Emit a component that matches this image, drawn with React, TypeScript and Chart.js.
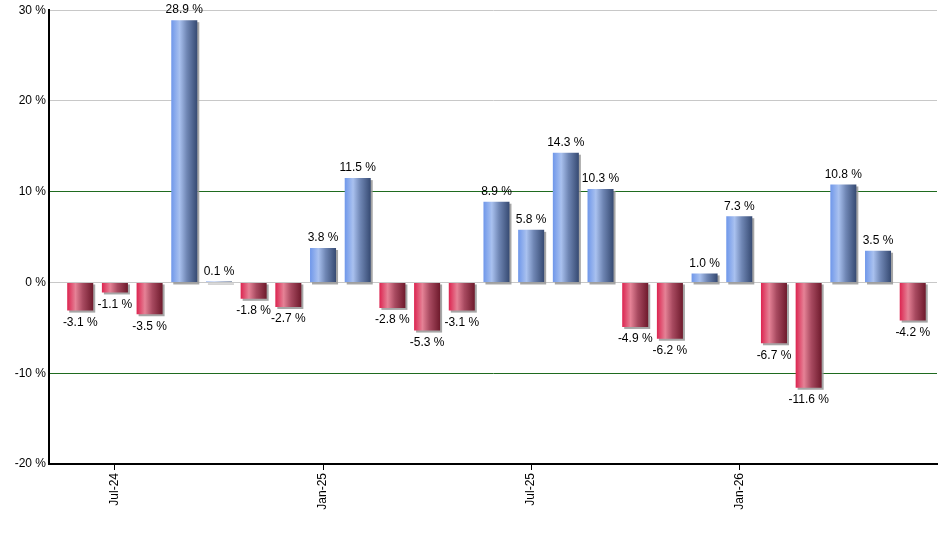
import React, { useEffect, useRef } from "react";
import { Chart, registerables } from "chart.js";

Chart.register(...registerables);

const months = [
  "Jun-24", "Jul-24", "Aug-24", "Sep-24", "Oct-24", "Nov-24", "Dec-24",
  "Jan-25", "Feb-25", "Mar-25", "Apr-25", "May-25", "Jun-25",
  "Jul-25", "Aug-25", "Sep-25", "Oct-25", "Nov-25", "Dec-25",
  "Jan-26", "Feb-26", "Mar-26", "Apr-26", "May-26", "Jun-26",
];
const returns = [
  -3.1, -1.1, -3.5, 28.9, 0.1, -1.8, -2.7,
  3.8, 11.5, -2.8, -5.3, -3.1, 8.9,
  5.8, 14.3, 10.3, -4.9, -6.2, 1.0,
  7.3, -6.7, -11.6, 10.8, 3.5, -4.2,
];
const tickIndices = [1, 7, 13, 19];
const yTicks = [-20, -10, 0, 10, 20, 30];

const FONT = "'Liberation Sans', Arial, sans-serif";
const BAR_PCT = 0.75;

function barGeom(chart: any, i: number) {
  const xs = chart.scales.x;
  const cx = xs.getPixelForValue(i);
  const w = Math.abs(xs.getPixelForValue(1) - xs.getPixelForValue(0)) * BAR_PCT;
  return { cx, w };
}

const shadowPlugin = {
  id: "barShadow",
  beforeDatasetsDraw(chart: any) {
    const ctx = chart.ctx;
    const meta = chart.getDatasetMeta(0);
    const ys = chart.scales.y;
    const zero = ys.getPixelForValue(0);
    ctx.save();
    ctx.fillStyle = "rgba(150,150,150,0.85)";
    meta.data.forEach((el: any) => {
      const left = el.x - el.width / 2;
      const top = Math.min(el.y, zero);
      const h = Math.abs(el.y - zero);
      ctx.fillRect(left + 2, top + 2, el.width, h);
    });
    ctx.restore();
  },
};

const labelPlugin = {
  id: "valueLabels",
  afterDatasetsDraw(chart: any) {
    const ctx = chart.ctx;
    const meta = chart.getDatasetMeta(0);
    ctx.save();
    ctx.font = "12px " + FONT;
    ctx.fillStyle = "#000";
    ctx.textAlign = "center";
    meta.data.forEach((el: any, i: number) => {
      const v = returns[i];
      const txt = v.toFixed(1) + " %";
      if (v >= 0) {
        ctx.textBaseline = "bottom";
        ctx.fillText(txt, el.x, el.y - 4);
      } else {
        ctx.textBaseline = "top";
        ctx.fillText(txt, el.x, el.y + 6);
      }
    });
    ctx.restore();
  },
};

export default function App() {
  const ref = useRef<HTMLCanvasElement | null>(null);

  useEffect(() => {
    document.body.style.margin = "0";
    const canvas = ref.current;
    if (!canvas) return;

    const gradFor = (c: any) => {
      const chart = c.chart;
      if (!chart.chartArea) return "#6b8fd8";
      const i = c.dataIndex;
      const v = returns[i];
      const { cx, w } = barGeom(chart, i);
      const g = chart.ctx.createLinearGradient(cx - w / 2, 0, cx + w / 2, 0);
      if (v >= 0) {
        g.addColorStop(0, "#6f97ea");
        g.addColorStop(0.32, "#a9c1ef");
        g.addColorStop(0.6, "#6f86b4");
        g.addColorStop(1, "#364a72");
      } else {
        g.addColorStop(0, "#dc2450");
        g.addColorStop(0.32, "#e58296");
        g.addColorStop(0.6, "#a84a60");
        g.addColorStop(1, "#6e1a2c");
      }
      return g;
    };

    const chart = new Chart(canvas, {
      type: "bar",
      data: {
        datasets: [
          {
            data: returns.map((v, i) => ({ x: i, y: v })),
            backgroundColor: gradFor,
            borderWidth: 0,
            barPercentage: BAR_PCT,
            categoryPercentage: 1,
          },
        ],
      },
      plugins: [shadowPlugin, labelPlugin],
      options: {
        animation: false,
        responsive: false,
        maintainAspectRatio: false,
        layout: { padding: { top: 10, right: 3, left: 0, bottom: 0 } },
        plugins: {
          legend: { display: false },
          tooltip: { enabled: false },
        },
        scales: {
          x: {
            type: "linear",
            offset: false,
            min: -0.9,
            max: 24.7,
            afterBuildTicks: (s: any) => {
              s.ticks = tickIndices.map((v) => ({ value: v }));
            },
            afterFit: (s: any) => {
              s.height = 86;
            },
            ticks: {
              autoSkip: false,
              minRotation: 90,
              maxRotation: 90,
              padding: 3,
              color: "#000",
              font: { family: FONT, size: 12 },
              callback: (v: any) => months[v as number] ?? "",
            },
            grid: {
              offset: false,
              drawOnChartArea: false,
              drawTicks: true,
              tickLength: 6,
              color: "#000",
            },
            border: { display: true, color: "#000", width: 2 },
          },
          y: {
            min: -20,
            max: 30,
            afterBuildTicks: (s: any) => {
              s.ticks = yTicks.map((v) => ({ value: v }));
            },
            afterFit: (s: any) => {
              s.width = 49;
            },
            ticks: {
              padding: 3,
              color: "#000",
              font: { family: FONT, size: 12 },
              callback: (v: any) => v + " %",
            },
            grid: {
              drawTicks: false,
              color: (c: any) => {
                const v = c.tick?.value;
                if (v === 10 || v === -10) return "#1f6b1f";
                if (v === -20) return "rgba(0,0,0,0)";
                return "#c8c8c8";
              },
              lineWidth: 1,
            },
            border: { display: true, color: "#000", width: 2 },
          },
        },
      },
    } as any);

    return () => chart.destroy();
  }, []);

  return (
    <div style={{ position: "absolute", left: 0, top: 0, width: 940, height: 550, background: "#fff" }}>
      <canvas ref={ref} width={940} height={550} style={{ width: 940, height: 550, display: "block" }} />
    </div>
  );
}
